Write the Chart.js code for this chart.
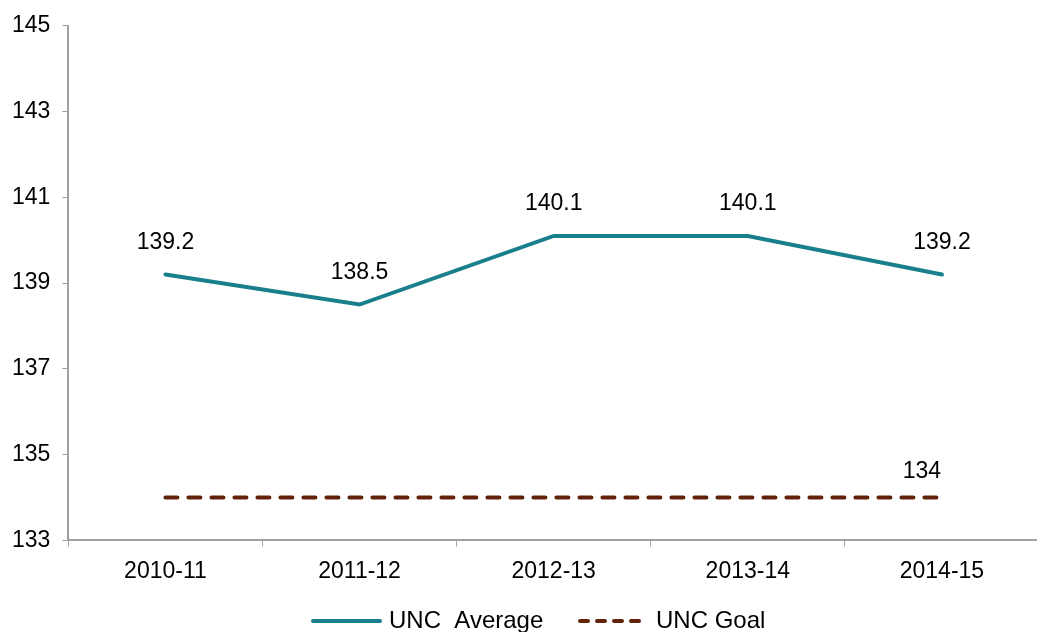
<!DOCTYPE html>
<html>
<head>
<meta charset="utf-8">
<script src="https://cdn.jsdelivr.net/npm/chart.js@4"></script>
<style>
    html, body { margin: 0; padding: 0; background: #fff; overflow: hidden; }
    #wrap { width: 1040px; height: 648px; position: relative; }
</style>
</head>
<body>
<div id="wrap"><canvas id="myChart"></canvas></div>
<script>
const years = ['2010-11', '2011-12', '2012-13', '2013-14', '2014-15'];
const uncAverage = [139.2, 138.5, 140.1, 140.1, 139.2];
const uncGoal = [134, 134, 134, 134, 134];
const yTicks = [133, 135, 137, 139, 141, 143, 145];

const tealColor = '#1a7f8c';
const goalColor = '#62220a';
const axisColor = '#a0a0a0';
const fontFamily = '"Liberation Sans", Arial, sans-serif';
const fontSize = 23;

// value labels above the points (goal line only labelled at the end)
const pointLabels = {
    id: 'pointLabels',
    afterDatasetsDraw(chart) {
        const ctx = chart.ctx;
        ctx.save();
        ctx.font = fontSize + 'px ' + fontFamily;
        ctx.fillStyle = '#000';
        ctx.textAlign = 'center';
        ctx.textBaseline = 'middle';
        chart.data.datasets.forEach((ds, i) => {
            const meta = chart.getDatasetMeta(i);
            meta.data.forEach((pt, j) => {
                if (ds.label === 'UNC Goal') {
                    if (j !== ds.data.length - 1) return;
                    ctx.fillText(String(ds.data[j]), pt.x - 20, pt.y - 26);
                } else {
                    ctx.fillText(String(ds.data[j]), pt.x, pt.y - 32);
                }
            });
        });
        ctx.restore();
    }
};

// legend drawn by hand so the dashed goal line shows up
const legendItems = [
    { lineX: 313, lineLen: 67, dash: [], textX: 389 },
    { lineX: 580, lineLen: 59, dash: [8, 9], textX: 656 }
];
const lineLegend = {
    id: 'lineLegend',
    afterDraw(chart) {
        const ctx = chart.ctx;
        const y = 621;
        ctx.save();
        ctx.font = '24px ' + fontFamily;
        ctx.textBaseline = 'middle';
        ctx.fillStyle = '#000';
        chart.data.datasets.forEach((ds, i) => {
            const it = legendItems[i];
            ctx.beginPath();
            ctx.strokeStyle = ds.borderColor;
            ctx.lineWidth = ds.borderWidth;
            ctx.lineCap = 'round';
            ctx.setLineDash(it.dash);
            ctx.moveTo(it.lineX, y);
            ctx.lineTo(it.lineX + it.lineLen, y);
            ctx.stroke();
            ctx.setLineDash([]);
            ctx.fillText(ds.label, it.textX, y);
        });
        ctx.restore();
    }
};

const ctx = document.getElementById('myChart').getContext('2d');

const myChart = new Chart(ctx, {
    type: 'line',
    data: {
        labels: years,
        datasets: [{
            label: 'UNC  Average',
            data: uncAverage,
            borderColor: tealColor,
            backgroundColor: tealColor,
            borderWidth: 4,
            pointRadius: 0,
            tension: 0,
            borderCapStyle: 'round'
        }, {
            label: 'UNC Goal',
            data: uncGoal,
            borderColor: goalColor,
            backgroundColor: goalColor,
            borderWidth: 4,
            borderDash: [12, 11],
            borderCapStyle: 'round',
            pointRadius: 0,
            tension: 0
        }]
    },
    options: {
        responsive: true,
        maintainAspectRatio: false,
        animation: false,
        layout: {
            padding: { left: 0, right: 1, top: 5, bottom: 52 }
        },
        plugins: {
            tooltip: { enabled: false },
            legend: { display: false }
        },
        scales: {
            x: {
                offset: true,
                grid: {
                    display: true,
                    offset: true,
                    drawOnChartArea: false,
                    drawTicks: true,
                    tickLength: 6,
                    color: axisColor
                },
                border: { display: true, color: axisColor, width: 2 },
                ticks: {
                    color: '#000',
                    padding: 11,
                    font: { family: fontFamily, size: fontSize }
                }
            },
            y: {
                min: 133,
                max: 145,
                afterBuildTicks: (axis) => { axis.ticks = yTicks.map(v => ({ value: v })); },
                grid: {
                    display: true,
                    drawOnChartArea: false,
                    drawTicks: true,
                    tickLength: 6,
                    color: axisColor
                },
                border: { display: true, color: axisColor, width: 2 },
                ticks: {
                    color: '#000',
                    padding: 12,
                    font: { family: fontFamily, size: fontSize }
                }
            }
        }
    },
    plugins: [pointLabels, lineLegend]
});
</script>
</body>
</html>
